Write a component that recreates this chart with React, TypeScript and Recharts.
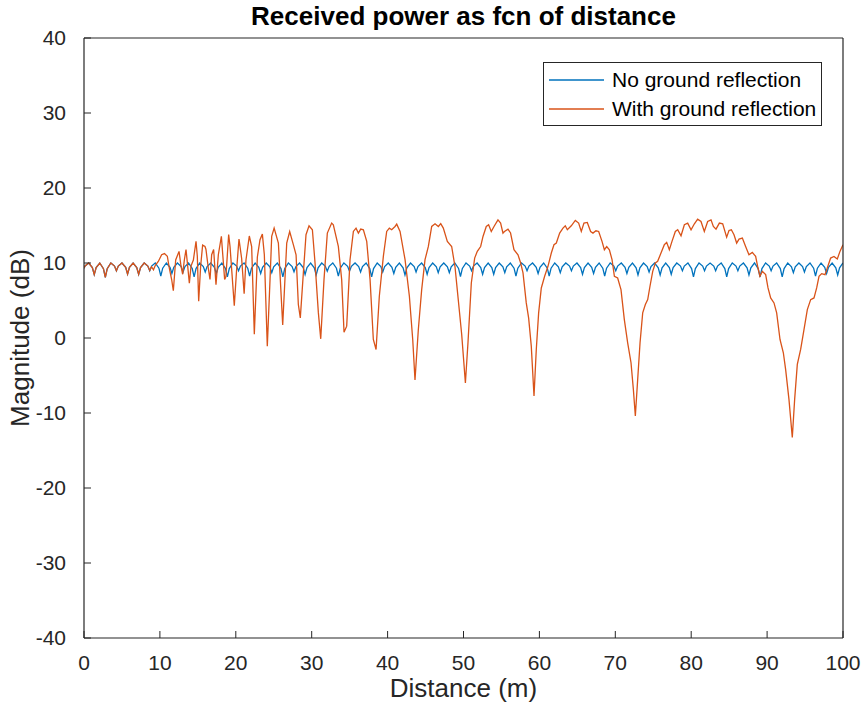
import { Line, LineChart, XAxis, YAxis } from "recharts";

const BLUE = "#0072BD"; // matlab default 1
const ORANGE = "#D95319"; // matlab default 2
const AXIS = "#262626";
const FONT = "'Liberation Sans', Arial, Helvetica, sans-serif";

const W = 863;
const H = 714;

const X_TICKS = [0, 10, 20, 30, 40, 50, 60, 70, 80, 90, 100];
const Y_TICKS = [-40, -30, -20, -10, 0, 10, 20, 30, 40];

// [distance m, magnitude dB]
const NO_REFLECTION: [number, number][] = [
  [0, 9.3], [0.14, 9.6], [0.62, 10],
  [1.1, 9.38], [1.35, 8.45], [1.6, 9.38], [2.08, 10],
  [2.56, 9.24], [2.81, 8.1], [3.06, 9.24], [3.54, 10],
  [4.02, 9.59], [4.27, 8.97], [4.52, 9.59], [5.0, 10],
  [5.49, 9.41], [5.74, 8.53], [5.99, 9.41], [6.47, 10],
  [6.95, 9.4], [7.2, 8.5], [7.45, 9.4], [7.93, 10],
  [8.41, 9.59], [8.66, 8.97], [8.91, 9.59], [9.39, 10],
  [9.87, 9.31], [10.12, 8.27], [10.37, 9.31], [10.85, 10],
  [11.33, 9.44], [11.58, 8.6], [11.83, 9.44], [12.31, 10],
  [12.8, 9.52], [13.05, 8.8], [13.3, 9.52], [13.78, 10],
  [14.26, 9.26], [14.51, 8.15], [14.76, 9.26], [15.24, 10],
  [15.72, 9.52], [15.97, 8.8], [16.22, 9.52], [16.7, 10],
  [17.18, 9.44], [17.43, 8.6], [17.68, 9.44], [18.16, 10],
  [18.64, 9.26], [18.89, 8.15], [19.14, 9.26], [19.62, 10],
  [20.11, 9.59], [20.36, 8.97], [20.61, 9.59], [21.09, 10],
  [21.57, 9.31], [21.82, 8.27], [22.07, 9.31], [22.55, 10],
  [23.03, 9.44], [23.28, 8.6], [23.53, 9.44], [24.01, 10],
  [24.49, 9.48], [24.74, 8.7], [24.99, 9.48], [25.47, 10],
  [25.95, 9.26], [26.2, 8.15], [26.45, 9.26], [26.93, 10],
  [27.42, 9.53], [27.67, 8.83], [27.92, 9.53], [28.4, 10],
  [28.88, 9.39], [29.13, 8.47], [29.38, 9.39], [29.86, 10],
  [30.34, 9.36], [30.59, 8.4], [30.84, 9.36], [31.32, 10],
  [31.8, 9.56], [32.05, 8.9], [32.3, 9.56], [32.78, 10],
  [33.26, 9.3], [33.51, 8.25], [33.76, 9.3], [34.24, 10],
  [34.73, 9.56], [34.98, 8.9], [35.23, 9.56], [35.71, 10],
  [36.19, 9.52], [36.44, 8.8], [36.69, 9.52], [37.17, 10],
  [37.65, 9.26], [37.9, 8.15], [38.15, 9.26], [38.63, 10],
  [39.11, 9.52], [39.36, 8.8], [39.61, 9.52], [40.09, 10],
  [40.57, 9.44], [40.82, 8.6], [41.07, 9.44], [41.55, 10],
  [42.04, 9.36], [42.29, 8.4], [42.54, 9.36], [43.02, 10],
  [43.5, 9.52], [43.75, 8.8], [44.0, 9.52], [44.48, 10],
  [44.96, 9.4], [45.21, 8.5], [45.46, 9.4], [45.94, 10],
  [46.42, 9.48], [46.67, 8.7], [46.92, 9.48], [47.4, 10],
  [47.88, 9.48], [48.13, 8.7], [48.38, 9.48], [48.86, 10],
  [49.35, 9.28], [49.6, 8.2], [49.85, 9.28], [50.33, 10],
  [50.81, 9.59], [51.06, 8.97], [51.31, 9.59], [51.79, 10],
  [52.27, 9.4], [52.52, 8.5], [52.77, 9.4], [53.25, 10],
  [53.73, 9.4], [53.98, 8.5], [54.23, 9.4], [54.71, 10],
  [55.19, 9.48], [55.44, 8.7], [55.69, 9.48], [56.17, 10],
  [56.66, 9.31], [56.91, 8.27], [57.16, 9.31], [57.64, 10],
  [58.12, 9.59], [58.37, 8.97], [58.62, 9.59], [59.1, 10],
  [59.58, 9.44], [59.83, 8.6], [60.08, 9.44], [60.56, 10],
  [61.04, 9.31], [61.29, 8.27], [61.54, 9.31], [62.02, 10],
  [62.5, 9.48], [62.75, 8.7], [63.0, 9.48], [63.48, 10],
  [63.97, 9.59], [64.22, 8.97], [64.47, 9.59], [64.95, 10],
  [65.43, 9.4], [65.68, 8.5], [65.93, 9.4], [66.41, 10],
  [66.89, 9.44], [67.14, 8.6], [67.39, 9.44], [67.87, 10],
  [68.35, 9.31], [68.6, 8.27], [68.85, 9.31], [69.33, 10],
  [69.81, 9.59], [70.06, 8.97], [70.31, 9.59], [70.79, 10],
  [71.28, 9.44], [71.53, 8.6], [71.78, 9.44], [72.26, 10],
  [72.74, 9.36], [72.99, 8.4], [73.24, 9.36], [73.72, 10],
  [74.2, 9.52], [74.45, 8.8], [74.7, 9.52], [75.18, 10],
  [75.66, 9.36], [75.91, 8.4], [76.16, 9.36], [76.64, 10],
  [77.12, 9.4], [77.37, 8.5], [77.62, 9.4], [78.1, 10],
  [78.59, 9.59], [78.84, 8.97], [79.09, 9.59], [79.57, 10],
  [80.05, 9.26], [80.3, 8.15], [80.55, 9.26], [81.03, 10],
  [81.51, 9.59], [81.76, 8.97], [82.01, 9.59], [82.49, 10],
  [82.97, 9.59], [83.22, 8.97], [83.47, 9.59], [83.95, 10],
  [84.43, 9.26], [84.68, 8.15], [84.93, 9.26], [85.41, 10],
  [85.9, 9.59], [86.15, 8.97], [86.4, 9.59], [86.88, 10],
  [87.36, 9.36], [87.61, 8.4], [87.86, 9.36], [88.34, 10],
  [88.82, 9.26], [89.07, 8.15], [89.32, 9.26], [89.8, 10],
  [90.28, 9.59], [90.53, 8.97], [90.78, 9.59], [91.26, 10],
  [91.74, 9.26], [91.99, 8.15], [92.24, 9.26], [92.72, 10],
  [93.21, 9.48], [93.46, 8.7], [93.71, 9.48], [94.19, 10],
  [94.67, 9.52], [94.92, 8.8], [95.17, 9.52], [95.65, 10],
  [96.13, 9.31], [96.38, 8.27], [96.63, 9.31], [97.11, 10],
  [97.59, 9.44], [97.84, 8.6], [98.09, 9.44], [98.57, 10],
  [99.05, 9.36], [99.3, 8.4], [99.55, 9.36], [100, 10],
];

const WITH_REFLECTION: [number, number][] = [
  [0, 9.3], [0.14, 9.6], [0.62, 10],
  [1.1, 9.38], [1.35, 8.45], [1.6, 9.38], [2.08, 10],
  [2.56, 9.24], [2.81, 8.1], [3.06, 9.24], [3.54, 10],
  [4.02, 9.59], [4.27, 8.97], [4.52, 9.59], [5.0, 10],
  [5.49, 9.41], [5.74, 8.53], [5.99, 9.41], [6.47, 10],
  [6.95, 9.4], [7.2, 8.5], [7.45, 9.4], [7.93, 10],
  [8.41, 9.59], [8.66, 9.0], [8.9, 9.5], [9.15, 9.1], [9.4, 9.7],
  [9.79, 10.2], [10.23, 11.1], [10.6, 11.25], [10.98, 10.9], [11.24, 9.3],
  [11.55, 7.8], [11.77, 6.3], [12.08, 10.4], [12.52, 11.55], [12.78, 9.6],
  [13.0, 8.5], [13.22, 10.4], [13.44, 11.8], [13.66, 9.6], [13.88, 7.3],
  [14.1, 9.6], [14.41, 10.4], [14.76, 12.9], [14.93, 10.9], [15.11, 4.9],
  [15.37, 9.6], [15.63, 12.4], [15.94, 12.2], [16.07, 11.8], [16.38, 9.3],
  [16.6, 7.8], [16.82, 11.1], [17.08, 11.8], [17.39, 7.1], [17.7, 11.1],
  [18.1, 13.55], [18.53, 7.8], [18.7, 8.2], [19.06, 13.8], [19.24, 12.2],
  [19.8, 4.3], [20.1, 9.0], [20.42, 13.2], [20.77, 10.6], [21.1, 5.9],
  [21.34, 10.4], [21.78, 13.6], [22.09, 12.2], [22.44, 0.5], [22.84, 10.8],
  [23.19, 13.1], [23.5, 13.85], [23.76, 11.1], [24.15, -1.1], [24.51, 7.8],
  [24.73, 13.55], [25.05, 14.65], [25.61, 12.66], [26.18, 1.75], [26.71, 12.66],
  [27.1, 14.2], [27.58, 12.44], [27.94, 11.1], [28.24, 4.46], [28.5, 2.68],
  [28.9, 8.67], [29.25, 13.77], [29.65, 14.96], [30.09, 14.43], [30.44, 10.0],
  [30.88, 3.35], [31.19, -0.11], [31.62, 7.78], [32.06, 13.99], [32.63, 15.32],
  [32.85, 15.1], [33.51, 12.21], [33.95, 7.78], [34.26, 0.78], [34.61, 1.58],
  [35.05, 10.44], [35.49, 14.21], [35.84, 14.65], [36.15, 13.99], [36.46, 14.52],
  [36.81, 14.43], [37.25, 12.88], [37.69, 7.78], [38.12, -0.2], [38.48, -1.53],
  [38.91, 5.57], [39.44, 10.89], [39.88, 14.21], [40.23, 14.65], [40.54, 14.43],
  [40.98, 14.87], [41.2, 15.18], [41.64, 14.21], [42.3, 10.44], [42.87, 5.57],
  [43.31, -0.2], [43.61, -5.6], [44.05, 1.13], [44.49, 6.45], [44.93, 10.44],
  [45.37, 12.21], [45.81, 14.87], [46.25, 15.23], [46.69, 14.87], [47.0, 15.25],
  [47.34, 14.65], [47.87, 12.88], [48.44, 12.2], [48.88, 9.5], [49.32, 5.0],
  [49.76, 0.5], [50.25, -6.0], [50.59, -0.64], [51.03, 7.34], [51.47, 10.66],
  [51.82, 11.55], [52.26, 12.2], [52.57, 13.54], [53.0, 14.87], [53.31, 15.1],
  [53.66, 14.2], [54.02, 14.87], [54.54, 15.76], [54.89, 15.32], [55.2, 13.99],
  [55.4, 14.2], [55.86, 14.52], [56.2, 14.0], [56.65, 11.77], [57.18, 11.1],
  [57.53, 10.0], [57.84, 8.67], [58.27, 4.68], [58.58, 2.68], [58.93, -1.08],
  [59.29, -7.73], [59.59, -1.53], [59.9, 3.35], [60.25, 6.67], [60.69, 8.23],
  [61.13, 9.56], [61.57, 11.33], [61.92, 12.44], [62.23, 12.66], [62.67, 13.99],
  [63.11, 14.65], [63.41, 14.96], [63.68, 14.43], [64.2, 14.96], [64.73, 15.67],
  [65.17, 15.32], [65.52, 14.21], [65.87, 15.32], [66.31, 15.41], [66.75, 14.2],
  [67.06, 13.99], [67.45, 14.3], [67.81, 14.21], [68.25, 12.88], [68.56, 11.77],
  [68.87, 12.2], [69.22, 11.77], [69.57, 10.44], [69.88, 8.23], [70.31, 8.0],
  [70.75, 6.45], [71.19, 2.46], [71.63, -0.64], [72.07, -3.3], [72.38, -6.85],
  [72.64, -10.39], [72.95, -5.52], [73.26, -0.64], [73.61, 3.35], [73.96, 4.46],
  [74.27, 5.12], [74.57, 6.9], [74.93, 8.89], [75.28, 10.0], [75.58, 10.22],
  [76.02, 11.33], [76.46, 12.44], [76.77, 12.75], [77.12, 11.77], [77.47, 12.88],
  [77.91, 14.21], [78.22, 14.43], [78.66, 13.63], [79.1, 15.1], [79.54, 15.32],
  [79.98, 14.43], [80.42, 15.23], [80.85, 15.85], [81.29, 15.54], [81.73, 14.21],
  [82.17, 15.54], [82.61, 15.76], [82.92, 14.87], [83.27, 14.52], [83.71, 15.32],
  [84.15, 15.23], [84.67, 13.45], [84.98, 14.34], [85.29, 14.43], [85.64, 13.77],
  [85.99, 12.66], [86.3, 13.19], [86.74, 13.32], [87.17, 12.2], [87.61, 11.1],
  [88.05, 11.42], [88.49, 10.88], [88.8, 9.33], [89.06, 8.23], [89.37, 8.89],
  [89.81, 8.45], [90.12, 6.67], [90.47, 5.34], [90.91, 4.68], [91.26, 3.35],
  [91.7, -0.2], [92.14, -1.97], [92.44, -4.19], [92.88, -8.18], [93.32, -13.27],
  [93.63, -8.18], [93.98, -3.52], [94.42, -1.53], [94.86, 1.13], [95.3, 3.79],
  [95.74, 5.12], [96.18, 5.34], [96.53, 6.67], [96.84, 8.23], [97.19, 8.58],
  [97.63, 8.45], [97.93, 9.33], [98.37, 10.66], [98.81, 10.88], [99.25, 10.53],
  [99.6, 11.55], [100, 12.44],
];

const SERIES_NAMES = ["No ground reflection", "With ground reflection"];
const SERIES_COLORS = [BLUE, ORANGE];

const toRows = (pts: [number, number][]) => pts.map(([x, y]) => ({ x, y }));

const tickStyle = { fill: AXIS, fontSize: 21, fontFamily: FONT };
const axisLine = { stroke: AXIS, strokeWidth: 1.2 };

function LegendBox() {
  return (
    <div
      style={{
        position: "absolute",
        left: 543,
        top: 62,
        width: 277,
        height: 62,
        border: `1px solid ${AXIS}`,
        background: "#fff",
        fontFamily: FONT,
        fontSize: 21,
        color: "#000",
      }}
    >
      {SERIES_NAMES.map((name, i) => (
        <div
          key={name}
          style={{ display: "flex", alignItems: "center", height: 29, marginTop: i === 0 ? 2 : 0 }}
        >
          <svg width={68} height={10} style={{ flex: "none" }}>
            <line x1={5} x2={60} y1={5} y2={5} stroke={SERIES_COLORS[i]} strokeWidth={1.3} />
          </svg>
          <span>{name}</span>
        </div>
      ))}
    </div>
  );
}

export default function App() {
  return (
    <div style={{ position: "absolute", left: 0, top: 0, width: W, height: H, background: "#fff" }}>
      <LineChart width={W} height={H} margin={{ top: 0, right: 0, bottom: 0, left: 0 }}>
        <XAxis
          xAxisId="bottom"
          type="number"
          dataKey="x"
          domain={[0, 100]}
          ticks={X_TICKS}
          height={76}
          tick={tickStyle}
          tickSize={-7}
          tickMargin={24}
          tickLine={{ stroke: AXIS }}
          axisLine={axisLine}
          allowDataOverflow
        />
        <XAxis
          xAxisId="top"
          orientation="top"
          type="number"
          domain={[0, 100]}
          ticks={X_TICKS}
          height={38}
          tick={false}
          tickSize={-7}
          tickLine={{ stroke: AXIS }}
          axisLine={axisLine}
          allowDataOverflow
        />
        <YAxis
          yAxisId="left"
          type="number"
          domain={[-40, 40]}
          ticks={Y_TICKS}
          width={84}
          tick={tickStyle}
          tickSize={-7}
          tickMargin={25}
          tickLine={{ stroke: AXIS }}
          axisLine={axisLine}
          allowDataOverflow
        />
        <YAxis
          yAxisId="right"
          orientation="right"
          type="number"
          domain={[-40, 40]}
          ticks={Y_TICKS}
          width={20}
          tick={false}
          tickSize={-7}
          tickLine={{ stroke: AXIS }}
          axisLine={axisLine}
          allowDataOverflow
        />
        <Line
          xAxisId="bottom"
          yAxisId="left"
          data={toRows(NO_REFLECTION)}
          dataKey="y"
          name={SERIES_NAMES[0]}
          type="linear"
          stroke={BLUE}
          strokeWidth={1.3}
          dot={false}
          isAnimationActive={false}
        />
        <Line
          xAxisId="bottom"
          yAxisId="left"
          data={toRows(WITH_REFLECTION)}
          dataKey="y"
          name={SERIES_NAMES[1]}
          type="linear"
          stroke={ORANGE}
          strokeWidth={1.3}
          dot={false}
          isAnimationActive={false}
        />
      </LineChart>

      <div
        style={{
          position: "absolute",
          left: 84,
          width: 759,
          top: 1,
          textAlign: "center",
          fontFamily: FONT,
          fontWeight: "bold",
          fontSize: 26,
          color: "#000",
        }}
      >
        Received power as fcn of distance
      </div>
      <div
        style={{
          position: "absolute",
          left: 84,
          width: 759,
          top: 673,
          textAlign: "center",
          fontFamily: FONT,
          fontSize: 26,
          color: AXIS,
        }}
      >
        Distance (m)
      </div>
      <div
        style={{
          position: "absolute",
          left: 20,
          top: 338,
          transform: "translate(-50%, -50%) rotate(-90deg)",
          whiteSpace: "nowrap",
          fontFamily: FONT,
          fontSize: 26,
          color: AXIS,
        }}
      >
        Magnitude (dB)
      </div>
      <LegendBox />
    </div>
  );
}
